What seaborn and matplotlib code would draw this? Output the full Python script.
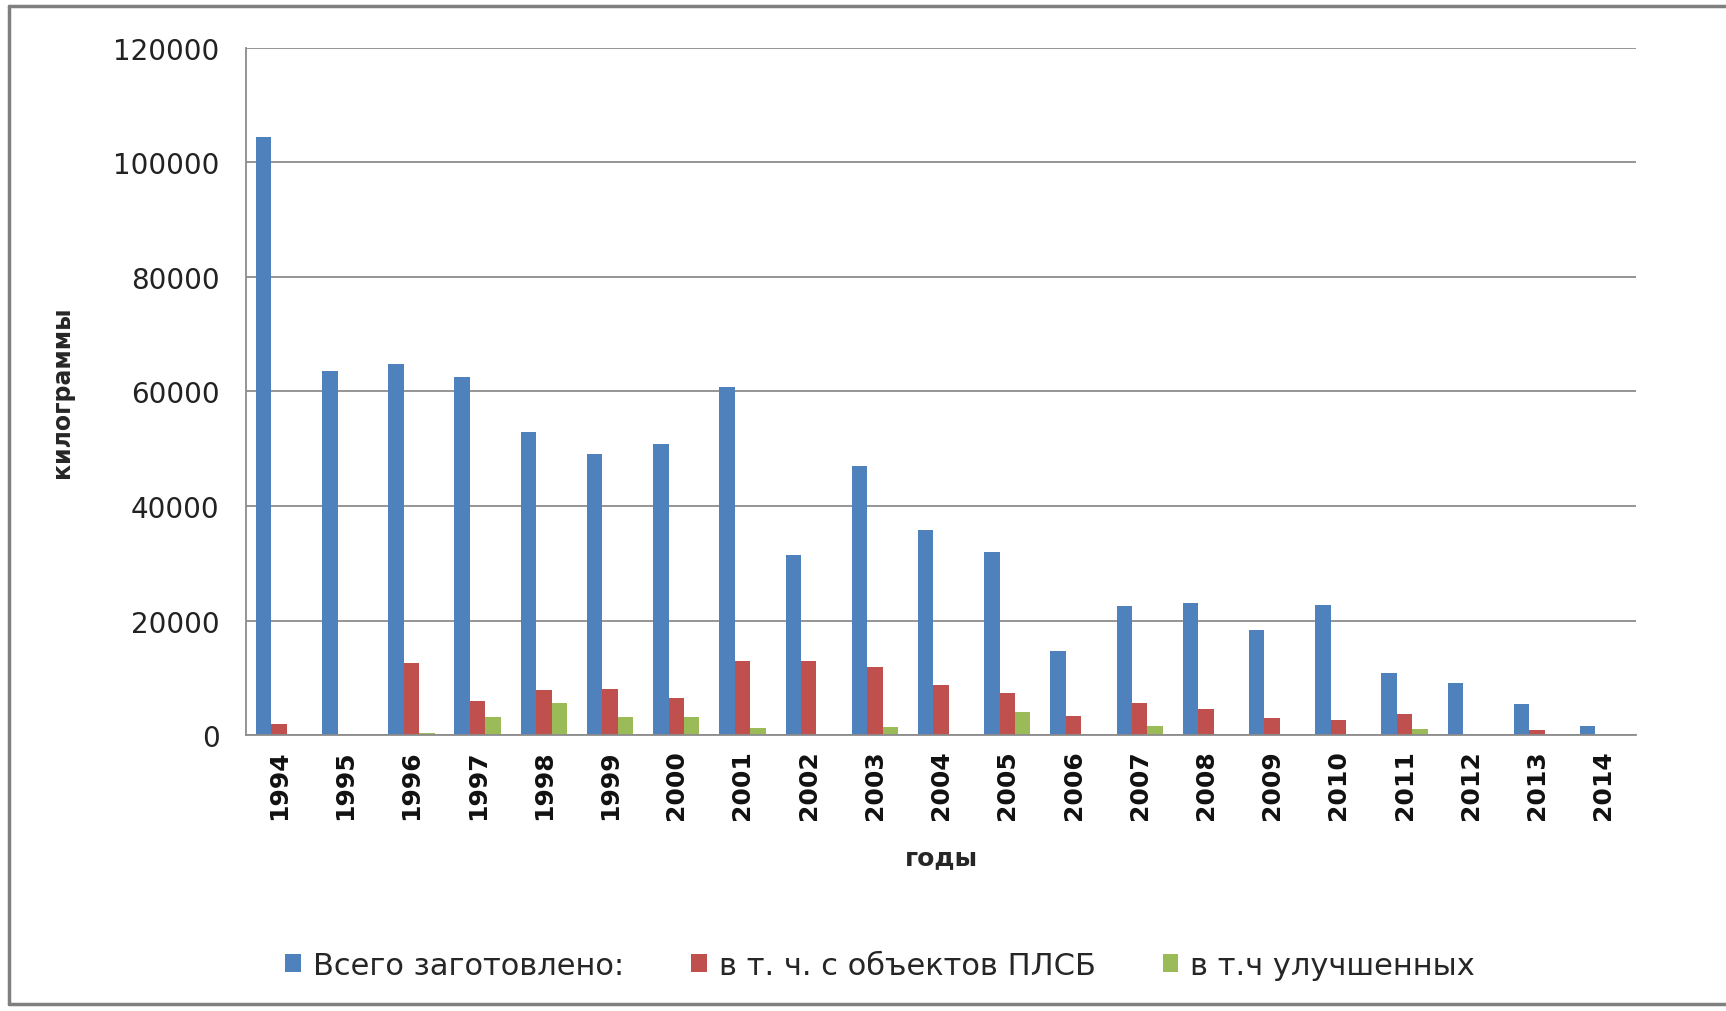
import numpy as np
import pandas as pd
import seaborn as sns
import matplotlib.pyplot as plt
from matplotlib.lines import Line2D
from matplotlib.patches import Patch

years = [str(y) for y in range(1994, 2015)]
total = [104400, 63600, 64800, 62500, 52900, 49000, 50900, 60700, 31500, 46900,
         35800, 31900, 14600, 22500, 23100, 18300, 22700, 10800, 9000, 5400, 1500]
plsb = [2000, 0, 12500, 5900, 7900, 8100, 6500, 12900, 12900, 11800,
        8700, 7400, 3300, 5600, 4600, 2900, 2700, 3600, 0, 900, 0]
improved = [0, 0, 400, 3100, 5600, 3100, 3100, 1300, 0, 1400,
            0, 4000, 0, 1600, 0, 0, 0, 1100, 0, 0, 0]

series_names = ["Всего заготовлено:", "в т. ч. с объектов ПЛСБ", "в т.ч улучшенных"]
colors = ["#4F81BD", "#C0504D", "#9BBB59"]

df = pd.concat([
    pd.DataFrame({"year": years, "value": total, "series": series_names[0]}),
    pd.DataFrame({"year": years, "value": plsb, "series": series_names[1]}),
    pd.DataFrame({"year": years, "value": improved, "series": series_names[2]}),
])

sns.set_style("white")
plt.rcParams["font.family"] = ["DejaVu Sans"]

fig = plt.figure(figsize=(17.26, 10.12), dpi=100)
ax = fig.add_axes([0.1425, 0.2727, 0.8055, 0.679])

sns.barplot(data=df, x="year", y="value", hue="series", palette=colors,
            width=0.7, gap=0, ax=ax, legend=False, saturation=1, linewidth=0)

ax.set_ylim(0, 120000)
ax.set_xlim(-0.5, len(years) - 0.5)
ax.set_yticks(range(0, 120001, 20000))
ax.yaxis.grid(True, color="#8c8c8c", linewidth=1.3)
ax.set_axisbelow(True)
for s in ["top", "right"]:
    ax.spines[s].set_visible(False)
for s in ["left", "bottom"]:
    ax.spines[s].set_color("#8c8c8c")
    ax.spines[s].set_linewidth(1.3)

ax.tick_params(axis="y", length=11, color="#8c8c8c", width=1.3, labelsize=20,
               labelcolor="#222222", pad=8)
ax.tick_params(axis="x", which="major", length=0, labelsize=18, labelrotation=90,
               labelcolor="#111111", pad=10)
ax.set_xticks(np.arange(len(years) + 1) - 0.5, minor=True)
ax.tick_params(axis="x", which="minor", length=6, color="#8c8c8c", width=1.3)
for lbl in ax.get_xticklabels():
    lbl.set_fontweight("bold")

ax.set_xlabel("годы", fontsize=18, fontweight="bold", labelpad=19)
ax.set_ylabel("килограммы", fontsize=17, fontweight="bold")
ax.yaxis.set_label_coords(-0.124, 0.5)

handles = [Patch(facecolor=c, edgecolor="none") for c in colors]
fig.legend(handles, series_names, loc="center", bbox_to_anchor=(0.51, 0.045),
           ncol=3, frameon=False, fontsize=22, handlelength=0.5, handleheight=0.5,
           handletextpad=0.4, columnspacing=2.2)

# outer frame of the chart area
fig.add_artist(Line2D([0.005, 0.005], [0.007, 0.993], color="#7f7f7f", lw=2.5,
                      transform=fig.transFigure))
fig.add_artist(Line2D([0.005, 1.0], [0.993, 0.993], color="#7f7f7f", lw=2.5,
                      transform=fig.transFigure))
fig.add_artist(Line2D([0.005, 1.0], [0.007, 0.007], color="#7f7f7f", lw=2.5,
                      transform=fig.transFigure))

fig.savefig("out.png", dpi=100)
